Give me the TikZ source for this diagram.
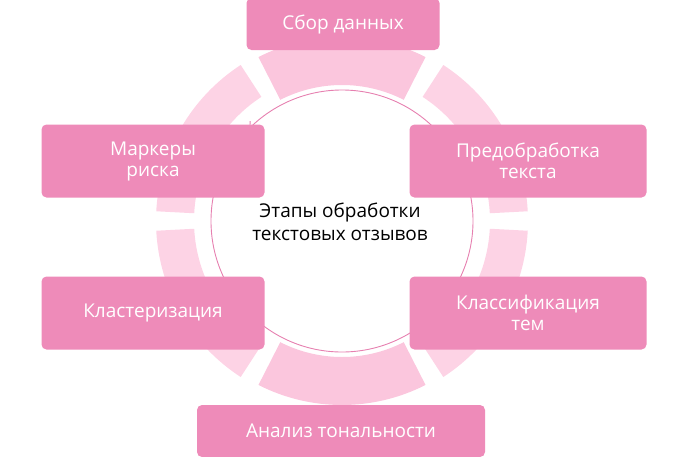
\documentclass[tikz,border=0pt]{standalone}
\usepackage{fontspec}
\setmainfont{Open Sans}
\usetikzlibrary{arrows.meta,decorations.markings}
\definecolor{boxpink}{HTML}{EE8BB9}
\definecolor{ringpink}{HTML}{FDD3E5}
\definecolor{wedgepink}{HTML}{FBC6DD}
\definecolor{linepink}{HTML}{E680B0}
\begin{document}
\begin{tikzpicture}[x=1pt,y=-1pt]
\tikzstyle{stage} = [rectangle, fill=boxpink, rounded corners=5pt, text=white,
font=\fontsize{19}{21}\selectfont, align=center, inner sep=0pt]
\tikzstyle{cycle} = [draw=linepink, line width=0.9pt, postaction={decorate},
decoration={markings, mark=between positions 0.125 and 1 step 0.25 with {\arrow{Straight Barb[length=5pt,width=9pt]}}}]
\useasboundingbox (0,0) rectangle (680,456);
% outer ring
\foreach \a in {0,180} {
\fill[ringpink] (342,221) ++(\a+3:186) arc[start angle=\a+3, end angle=\a+57, radius=186]
  -- ++(\a+57:-38) arc[start angle=\a+57, end angle=\a+3, radius=148] -- cycle;
\fill[ringpink] (342,221) ++(\a-57:186) arc[start angle=\a-57, end angle=\a-3, radius=186]
  -- ++(\a-3:-38) arc[start angle=\a-3, end angle=\a-57, radius=148] -- cycle;
}
\foreach \a in {60,240}
\fill[wedgepink] (342,221) ++(\a+3:184) arc[start angle=\a+3, end angle=\a+57, radius=184]
  -- ++(\a+57:-48) arc[start angle=\a+57, end angle=\a+3, radius=136] -- cycle;
% inner cycle, clockwise
\draw[cycle] (342,221) ++(180:131) arc[start angle=180, end angle=-180, radius=131];
% stages
\node[stage, minimum width=193pt, minimum height=52pt] (collect) at (343,24) {Сбор данных};
\node[stage, minimum width=237pt, minimum height=73pt] (preproc) at (528,161) {Предобработка\\текста};
\node[stage, minimum width=237pt, minimum height=73pt] (topics) at (528,313) {Классификация\\тем};
\node[stage, minimum width=288pt, minimum height=52pt] (sentiment) at (341,431) {Анализ тональности};
\node[stage, minimum width=223pt, minimum height=73pt] (cluster) at (153,313) {Кластеризация};
\node[stage, minimum width=223pt, minimum height=73pt] (risk) at (153,161) {Маркеры\\риска};
\node[align=center, font=\fontsize{19}{23}\selectfont] (title) at (340,222) {Этапы обработки\\текстовых отзывов};
\end{tikzpicture}
\end{document}
